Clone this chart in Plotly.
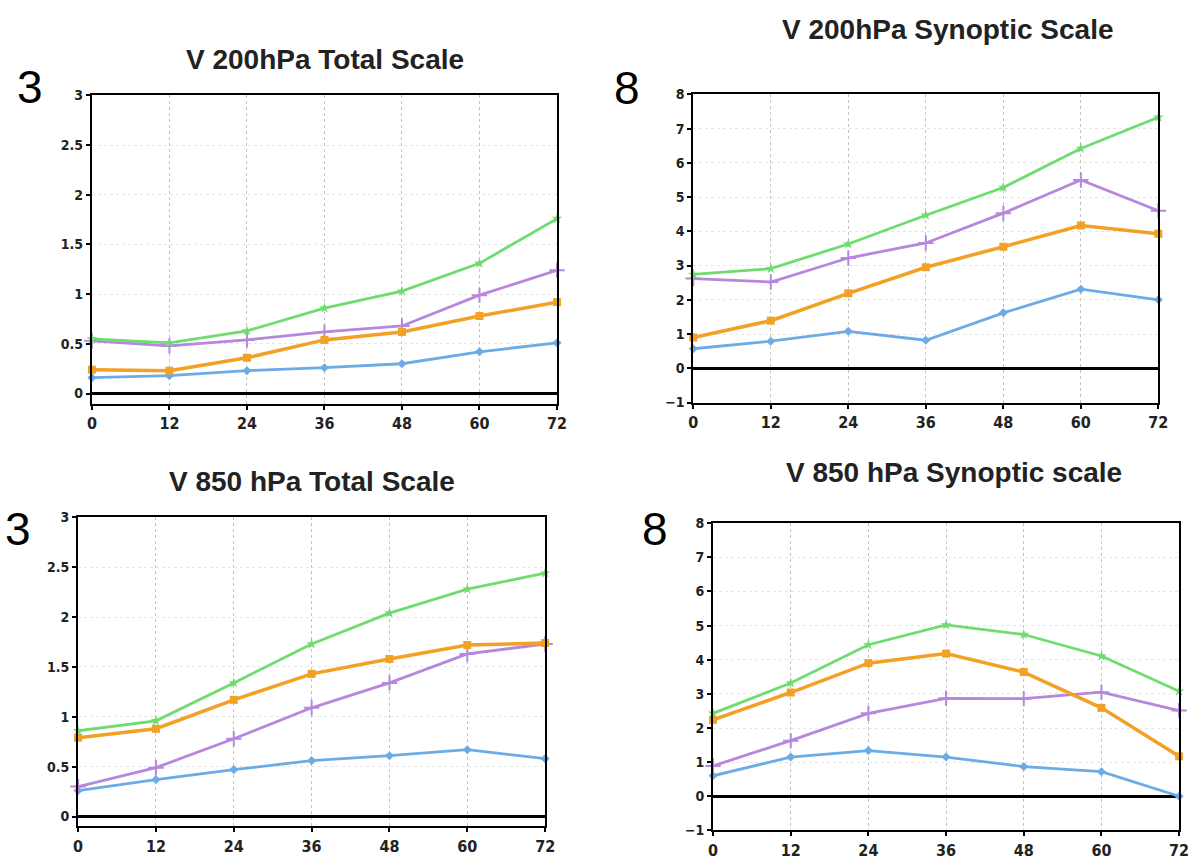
import plotly.graph_objects as go

W, H = 1198, 860

lead = [0, 12, 24, 36, 48, 60, 72]

# V 200hPa Total Scale
p1_green = [0.55, 0.51, 0.63, 0.86, 1.03, 1.31, 1.76]
p1_purple = [0.53, 0.48, 0.54, 0.62, 0.68, 0.99, 1.24]
p1_orange = [0.24, 0.23, 0.36, 0.54, 0.62, 0.78, 0.92]
p1_blue = [0.16, 0.18, 0.23, 0.26, 0.30, 0.42, 0.51]

# V 200hPa Synoptic Scale
p2_green = [2.74, 2.91, 3.63, 4.47, 5.28, 6.42, 7.33]
p2_purple = [2.62, 2.52, 3.22, 3.66, 4.53, 5.50, 4.60]
p2_orange = [0.90, 1.39, 2.19, 2.95, 3.55, 4.17, 3.93]
p2_blue = [0.57, 0.79, 1.08, 0.82, 1.62, 2.31, 2.00]

# V 850 hPa Total Scale
p3_green = [0.86, 0.96, 1.34, 1.73, 2.04, 2.28, 2.44]
p3_purple = [0.30, 0.49, 0.78, 1.09, 1.34, 1.63, 1.73]
p3_orange = [0.79, 0.88, 1.17, 1.43, 1.58, 1.72, 1.74]
p3_blue = [0.26, 0.37, 0.47, 0.56, 0.61, 0.67, 0.58]

# V 850 hPa Synoptic scale
p4_green = [2.43, 3.32, 4.44, 5.02, 4.74, 4.11, 3.08]
p4_purple = [0.89, 1.63, 2.43, 2.87, 2.86, 3.05, 2.51]
p4_orange = [2.24, 3.04, 3.90, 4.18, 3.64, 2.59, 1.17]
p4_blue = [0.60, 1.15, 1.34, 1.15, 0.87, 0.72, 0.00]

titles = ["V 200hPa Total Scale", "V 200hPa Synoptic Scale",
          "V 850 hPa Total Scale", "V 850 hPa Synoptic scale"]
panel_tags = ["3", "8", "3", "8"]

y_total_ticks = [0, 0.5, 1, 1.5, 2, 2.5, 3]
y_total_labels = ["0", "0.5", "1", "1.5", "2", "2.5", "3"]
y_syn_ticks = [-1, 0, 1, 2, 3, 4, 5, 6, 7, 8]
y_syn_labels = ["\u22121", "0", "1", "2", "3", "4", "5", "6", "7", "8"]

# panel boxes in pixels (left, right, top, bottom)
boxes = [(88, 559, 89, 403), (697, 1168, 88, 402),
         (74, 547, 519, 834), (717, 1189, 525, 838)]
title_pos = [(324, 52), (955, 22), (311, 482), (961, 473)]
tag_pos = [(25, 81), (630, 82), (13, 531), (658, 531)]

GREEN = "#6fdc6f"
PURPLE = "#b687dd"
ORANGE = "#f2a125"
BLUE = "#6cabe6"

panels = [
    (p1_blue, p1_purple, p1_orange, p1_green),
    (p2_blue, p2_purple, p2_orange, p2_green),
    (p3_blue, p3_purple, p3_orange, p3_green),
    (p4_blue, p4_purple, p4_orange, p4_green),
]

styles = [
    dict(color=BLUE, symbol="diamond", size=7, lw=2.8),
    dict(color=PURPLE, symbol="cross-thin", size=11, lw=2.8),
    dict(color=ORANGE, symbol="square", size=8, lw=3.5),
    dict(color=GREEN, symbol="star", size=8, lw=2.8),
]

fig = go.Figure()
tickfont_x = dict(family="DejaVu Sans Condensed, Liberation Sans Narrow, Arial Narrow, sans-serif",
                  size=16, color="#222222", weight="bold")
tickfont_y = dict(family="DejaVu Sans Condensed, Liberation Sans Narrow, Arial Narrow, sans-serif",
                  size=14, color="#222222", weight="bold")

for i, series in enumerate(panels):
    n = "" if i == 0 else str(i + 1)
    for s, st in zip(series, styles):
        mk = dict(symbol=st["symbol"], size=st["size"], color=st["color"])
        if st["symbol"] == "cross-thin":
            mk["line"] = dict(color=st["color"], width=2)
        fig.add_trace(go.Scatter(
            x=lead, y=s, mode="lines+markers",
            line=dict(color=st["color"], width=st["lw"]),
            marker=mk, showlegend=False, cliponaxis=False,
            xaxis="x" + n, yaxis="y" + n))
    l, r, t, b = boxes[i]
    xd = [l / W, r / W]
    yd = [1 - b / H, 1 - t / H]
    total = i in (0, 2)
    fig.update_layout(**{
        "xaxis" + n: dict(
            domain=xd, range=[0, 72], tickvals=lead,
            ticktext=[str(v) for v in lead], anchor="y" + n,
            showline=True, linecolor="black", linewidth=2, mirror=True,
            ticks="outside", ticklen=4, tickwidth=1.5, tickcolor="black",
            showgrid=True, gridcolor="#c4c4c4", griddash="dot", gridwidth=1,
            zeroline=False, tickfont=tickfont_x, fixedrange=True),
        "yaxis" + n: dict(
            domain=yd, range=[-0.1, 3] if total else [-1, 8],
            tickvals=y_total_ticks if total else y_syn_ticks,
            ticktext=y_total_labels if total else y_syn_labels,
            anchor="x" + n,
            showline=True, linecolor="black", linewidth=2, mirror=True,
            ticks="outside", ticklen=4, tickwidth=1.5, tickcolor="black",
            showgrid=True, gridcolor="#e6e6e6", griddash="dot", gridwidth=1,
            zeroline=True, zerolinecolor="black", zerolinewidth=3,
            tickfont=tickfont_y, fixedrange=True),
    })
    tx, ty = title_pos[i]
    fig.add_annotation(x=tx / W, y=1 - ty / H, xref="paper", yref="paper",
                       text="<b>" + titles[i] + "</b>", showarrow=False,
                       xanchor="center", yanchor="middle",
                       font=dict(family="Liberation Sans, Arial, sans-serif",
                                 size=28, color="#222222"))
    gx, gy = tag_pos[i]
    fig.add_annotation(x=gx / W, y=1 - gy / H, xref="paper", yref="paper",
                       text=panel_tags[i], showarrow=False,
                       xanchor="center", yanchor="middle",
                       font=dict(family="Liberation Sans, Arial, sans-serif",
                                 size=46, color="black"))

fig.update_layout(width=W, height=H, margin=dict(l=0, r=0, t=0, b=0),
                  paper_bgcolor="white", plot_bgcolor="white")

fig.write_html("out.html")
